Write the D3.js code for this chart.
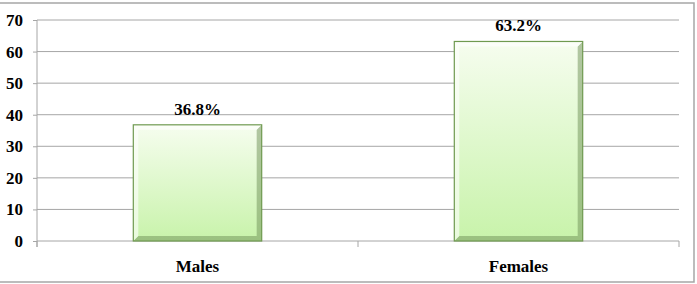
<!DOCTYPE html>
<html>
<head>
<meta charset="utf-8">
<script src="https://cdn.jsdelivr.net/npm/d3@7"></script>
<style>
  body { margin: 0; background: #fff; }
  svg { display: block; }
  text { font-family: "Liberation Serif", "Times New Roman", Times, "DejaVu Serif", serif !important; font-weight: bold; fill: #000; }
</style>
</head>
<body>
<svg width="697" height="284"></svg>
<script>
const categories = ["Males", "Females"];
const values = [36.8, 63.2];
const labels = ["36.8%", "63.2%"];
const yTicks = [0, 10, 20, 30, 40, 50, 60, 70];

const svg = d3.select("svg");
const margin = {top: 20, right: 18, bottom: 43, left: 37},
  width = 697 - margin.left - margin.right,
  height = 284 - margin.top - margin.bottom;

// outer frame
svg.append("rect")
  .attr("x", -2).attr("y", 3)
  .attr("width", 696).attr("height", 279)
  .attr("fill", "none")
  .attr("stroke", "#a6a6a6")
  .attr("stroke-width", 1.5);

const defs = svg.append("defs");
const grad = defs.append("linearGradient")
  .attr("id", "barFill").attr("x1", 0).attr("y1", 0).attr("x2", 0).attr("y2", 1);
grad.append("stop").attr("offset", "0%").attr("stop-color", "#f6fdef");
grad.append("stop").attr("offset", "100%").attr("stop-color", "#c8f3aa");

const g = svg.append("g").attr("transform", "translate(" + margin.left + "," + margin.top + ")");

const x = d3.scaleBand().domain(categories).range([0, width]).paddingInner(0.6).paddingOuter(0.3);
const xb = d3.scaleBand().domain(categories).range([0, width]);
const y = d3.scaleLinear().domain([0, 70]).range([height, 0]);

// gridlines
g.append("g").selectAll("line")
  .data(yTicks.slice(1))
  .join("line")
  .attr("x1", 0).attr("x2", width)
  .attr("y1", d => y(d)).attr("y2", d => y(d))
  .attr("stroke", "#a6a6a6");

// y axis
const yAxis = g.append("g")
  .call(d3.axisLeft(y).tickValues(yTicks).tickSize(4).tickPadding(10));
yAxis.attr("font-family", null);
yAxis.selectAll("text").style("font-size", "17px");
yAxis.select(".domain").attr("stroke", "#a6a6a6").attr("d", "M0,0V" + (height + 6));
yAxis.selectAll(".tick line").attr("stroke", "#a6a6a6");

// x axis line with ticks at band edges
const xTickPos = [0, xb.bandwidth(), width];
g.append("line")
  .attr("x1", 0).attr("x2", width).attr("y1", height).attr("y2", height)
  .attr("stroke", "#a6a6a6");
g.append("g").selectAll("line")
  .data(xTickPos)
  .join("line")
  .attr("x1", d => d).attr("x2", d => d)
  .attr("y1", height).attr("y2", height + 6)
  .attr("stroke", "#a6a6a6");

// bars
const bars = g.append("g").selectAll("g")
  .data(categories)
  .join("g")
  .attr("transform", (d, i) => "translate(" + x(d) + "," + y(values[i]) + ")");

bars.append("rect")
  .attr("width", x.bandwidth())
  .attr("height", (d, i) => height - y(values[i]))
  .attr("fill", "url(#barFill)");

// bevel: right and bottom shading
bars.append("path")
  .attr("d", (d, i) => {
    const w = x.bandwidth(), h = height - y(values[i]), b = 5;
    return "M" + w + ",0L" + w + "," + h + "L0," + h + "L" + b + "," + (h - b) + "L" + (w - b) + "," + (h - b) + "L" + (w - b) + "," + b + "Z";
  })
  .attr("fill", "#6d8f55")
  .attr("opacity", 0.5);
bars.append("path")
  .attr("d", (d, i) => {
    const w = x.bandwidth(), h = height - y(values[i]), b = 5;
    return "M0,0L" + w + ",0L" + (w - b) + "," + b + "L" + b + "," + b + "L" + b + "," + (h - b) + "L0," + h + "Z";
  })
  .attr("fill", "#ffffff")
  .attr("opacity", 0.6);
bars.append("rect")
  .attr("width", x.bandwidth())
  .attr("height", (d, i) => height - y(values[i]))
  .attr("fill", "none")
  .attr("stroke", "#6f9a50")
  .attr("stroke-width", 1.2);

// value labels
g.append("g").selectAll("text")
  .data(categories)
  .join("text")
  .attr("x", d => x(d) + x.bandwidth() / 2)
  .attr("y", (d, i) => y(values[i]) - 10)
  .attr("text-anchor", "middle")
  .style("font-size", "17px")
  .text((d, i) => labels[i]);

// category labels
g.append("g").selectAll("text")
  .data(categories)
  .join("text")
  .attr("x", d => xb(d) + xb.bandwidth() / 2)
  .attr("y", height + 31)
  .attr("text-anchor", "middle")
  .style("font-size", "17px")
  .text(d => d);
</script>
</body>
</html>
